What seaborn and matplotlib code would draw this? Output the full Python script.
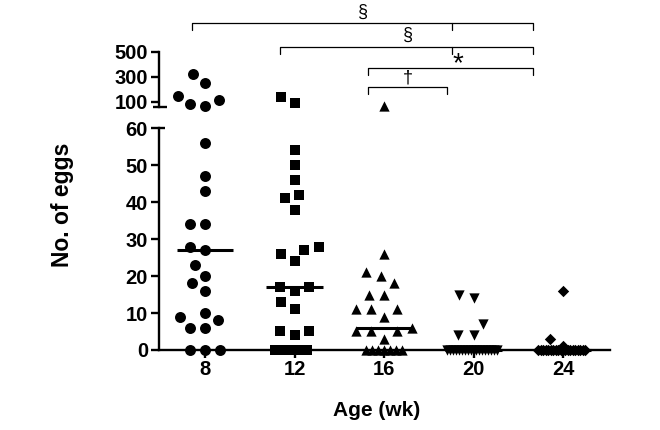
import warnings
import matplotlib
matplotlib.use("Agg")
import matplotlib.pyplot as plt
import matplotlib.transforms as mtransforms
from matplotlib.markers import MarkerStyle
import pandas as pd
import seaborn as sns

warnings.filterwarnings("ignore")

# ---------------- data ----------------
ages = ["8", "12", "16", "20", "24"]
markers = ["o", "s", "^", "v", "D"]

eggs_wk8 = [317, 246, 145, 113, 78, 66, 56, 47, 43, 34, 34, 28, 27, 23, 20,
            18, 16, 10, 9, 8, 6, 6, 0, 0, 0]
eggs_wk12 = [140, 89, 54, 50, 46, 42, 41, 38, 28, 27, 26, 24, 17, 17, 16,
             13, 11, 5, 5, 4, 0, 0, 0, 0, 0, 0]
eggs_wk16 = [66, 26, 21, 20, 18, 15, 15, 11, 11, 11, 9, 6, 5, 5, 5, 3,
             0, 0, 0, 0, 0, 0, 0]
eggs_wk20 = [15, 14, 7, 4, 4, 0, 0, 0, 0, 0, 0, 0, 0, 0, 0, 0, 0, 0, 0, 0,
             0, 0, 0]
eggs_wk24 = [16, 3, 1, 0, 0, 0, 0, 0, 0, 0, 0, 0, 0, 0, 0, 0, 0, 0, 0, 0,
             0, 0, 0]

lower_ticks = [0, 10, 20, 30, 40, 50, 60]
upper_ticks = [100, 300, 500]

# significance brackets (category index units) and their symbols
br_left = [-0.145, 0.838, 1.82, 1.82]
br_right = [3.665, 3.665, 3.665, 2.70]
br_mid = [2.76, 2.76, None, None]
br_symbol = ["§", "§", "*", "†"]
br_symbol_x = [1.76, 2.27, 2.82, 2.27]

series = [eggs_wk8, eggs_wk12, eggs_wk16, eggs_wk20, eggs_wk24]
df = pd.DataFrame({
    "age": [a for a, s in zip(ages, series) for _ in s],
    "eggs": [v for s in series for v in s],
})

# ---------------- style ----------------
sns.set_theme(style="ticks")
plt.rcParams["font.family"] = ["Liberation Sans", "DejaVu Sans"]
for key in ("axes.edgecolor", "xtick.color", "ytick.color", "text.color",
            "axes.labelcolor", "xtick.labelcolor", "ytick.labelcolor"):
    plt.rcParams[key] = "black"

W, H = 660.0, 430.0
fig = plt.figure(figsize=(6.6, 4.3), dpi=100)


def fig_box(l, t, r, b):
    return [l / W, 1 - b / H, (r - l) / W, (b - t) / H]


ax_low = fig.add_axes(fig_box(158.5, 120.9, 610, 359.2))
ax_top = fig.add_axes(fig_box(158.5, 46.5, 610, 111.7))

marker_sizes = [7.9, 7.7, 7.4, 7.4, 5.8]      # visible size (pt)
swarm_spacing = 10.4                           # collision size (pt)
packed_zero_spacing = [None, 4.4, 4.1, 2.0, 1.7]
seg = 60


def scaled_marker(m, visible, nominal):
    return MarkerStyle(m, transform=mtransforms.Affine2D().scale(visible / nominal))


def swarm(data, ax, i, nominal):
    sns.swarmplot(data=data, x="age", y="eggs", order=ages, ax=ax,
                  marker=scaled_marker(markers[i], marker_sizes[i], nominal),
                  size=nominal, color="black", linewidth=0,
                  warn_thresh=1.0)


for i, age in enumerate(ages):
    sub = df[df["age"] == age]
    top = sub[sub["eggs"] >= seg]
    low = sub[sub["eggs"] < seg]
    if packed_zero_spacing[i] is not None:
        zeros = low[low["eggs"] == 0]
        low = low[low["eggs"] > 0]
        swarm(zeros, ax_low, i, packed_zero_spacing[i])
    if len(low):
        swarm(low, ax_low, i, swarm_spacing)
    if len(top):
        swarm(top, ax_top, i, swarm_spacing)

# median lines
sns.boxplot(data=df, x="age", y="eggs", order=ages, ax=ax_low, width=0.63,
            showfliers=False, boxprops={"visible": False},
            whiskerprops={"visible": False}, capprops={"visible": False},
            medianprops={"color": "black", "linewidth": 2.2})

for c in ax_low.collections + ax_top.collections:
    c.set_clip_on(False)

# ---------------- axes ----------------
for ax in (ax_low, ax_top):
    ax.set_xlim(-0.52, 4.525)
    ax.set_xlabel("")
    ax.set_ylabel("")
    for side in ("top", "right"):
        ax.spines[side].set_visible(False)
    for s in ax.spines.values():
        s.set_linewidth(1.7)
    ax.tick_params(axis="both", direction="out", length=6, width=1.7,
                   labelsize=14.5, pad=1.5, colors="black")

ax_low.set_ylim(-2.5, 62)
ax_low.set_yticks(lower_ticks)
ax_low.spines["left"].set_bounds(0, 60)
ax_low.spines["bottom"].set_position(("data", 0))
ax_low.set_xticks(range(len(ages)))
ax_low.set_xticklabels(ages)

ax_top.set_ylim(20, 540)
ax_top.set_yticks(upper_ticks)
ax_top.spines["left"].set_bounds(seg, 500)
ax_top.spines["bottom"].set_visible(False)
ax_top.tick_params(axis="x", bottom=False, labelbottom=False)

for ax in (ax_low, ax_top):
    for lab in ax.get_xticklabels() + ax.get_yticklabels():
        lab.set_fontweight("bold")

# axis-break decorations
ax_low.plot([0, 0.0155], [60, 60], transform=ax_low.get_yaxis_transform(),
            color="black", lw=1.7, clip_on=False, solid_capstyle="butt")
ax_top.plot([-0.0125, 0.0188], [seg, seg],
            transform=ax_top.get_yaxis_transform(), color="black", lw=1.7,
            clip_on=False, solid_capstyle="butt")

# axis titles
fig.text(377 / W, 1 - 410 / H, "Age (wk)", ha="center", va="center",
         fontsize=15, fontweight="bold")
fig.text(63 / W, 1 - 205 / H, "No. of eggs", ha="center", va="center",
         rotation=90, fontsize=16.5, fontweight="bold")

# significance brackets
btrans = mtransforms.blended_transform_factory(ax_top.transData,
                                               fig.transFigure)
br_y_px = [22.7, 46.7, 67.7, 86.7]
sym_y_px = [12, 35, 64, 78]
sym_size = [13, 13, 20, 13]
drop = 7.3
for l, r, m, ypx, sym, sx, sy, fs in zip(br_left, br_right, br_mid, br_y_px,
                                         br_symbol, br_symbol_x, sym_y_px,
                                         sym_size):
    y = 1 - ypx / H
    yd = 1 - (ypx + drop) / H
    ax_top.plot([l, l, r, r], [yd, y, y, yd], transform=btrans,
                color="black", lw=0.9, clip_on=False)
    if m is not None:
        ax_top.plot([m, m], [y, yd], transform=btrans, color="black",
                    lw=0.9, clip_on=False)
    ax_top.text(sx, 1 - sy / H, sym, transform=btrans, ha="center",
                va="center", fontsize=fs, fontweight="normal")

fig.savefig("out.png", dpi=100)
